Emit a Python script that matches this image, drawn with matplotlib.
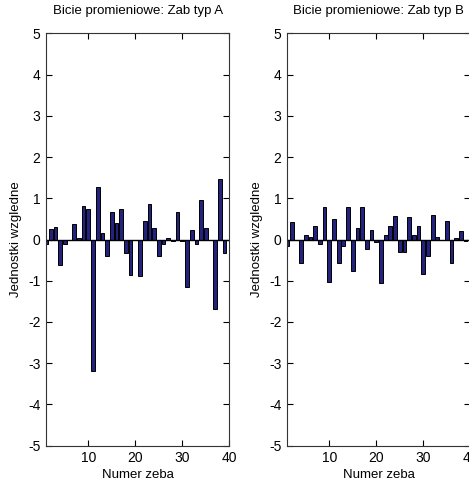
import numpy as np
import matplotlib
matplotlib.use("Agg")
import matplotlib.pyplot as plt

plt.rcParams['font.family'] = ['Liberation Sans', 'DejaVu Sans']
plt.rcParams['axes.unicode_minus'] = False

zeby = np.arange(1, 41)
typ_a = [-0.12, 0.26, 0.30, -0.62, -0.10, -0.02, 0.38, 0.03, 0.82, 0.73,
         -3.18, 1.28, 0.15, -0.41, 0.66, 0.39, 0.74, -0.33, -0.85, 0.0,
         -0.89, 0.45, 0.87, 0.27, -0.39, -0.11, 0.04, -0.03, 0.66, -0.03,
         -1.14, 0.22, -0.10, 0.95, 0.27, 0.0, -1.68, 1.46, -0.33, 0.0]
typ_b = [-0.15, 0.42, 0.0, -0.57, 0.10, 0.06, 0.33, -0.10, 0.80, -1.03,
         0.50, -0.57, -0.16, 0.80, -0.77, 0.27, 0.80, -0.22, 0.22, -0.07,
         -1.06, 0.10, 0.33, 0.57, -0.30, -0.30, 0.54, 0.10, 0.33, -0.83,
         -0.39, 0.59, 0.06, 0.0, 0.45, -0.57, 0.03, 0.20, -0.04, 0.0]
tytuly = ['Bicie promieniowe: Zab typ A', 'Bicie promieniowe: Zab typ B']

fig = plt.figure(figsize=(4.69, 4.87), dpi=100)
pozycje = [[0.0981, 0.0848, 0.3908, 0.8468], [0.6119, 0.0848, 0.3908, 0.8468]]

for poz, dane, tyt in zip(pozycje, [typ_a, typ_b], tytuly):
    ax = fig.add_axes(poz)
    ax.bar(zeby, dane, width=0.8, color='#23237f', edgecolor='black', linewidth=0.7)
    ax.axhline(0, color='black', linewidth=1)
    ax.set_xlim(1, 40)
    ax.set_ylim(-5, 5)
    ax.set_xticks([10, 20, 30, 40])
    ax.set_yticks(range(-5, 6))
    ax.tick_params(direction='in', length=4, top=True, right=True, labelsize=10, pad=4)
    ax.set_title(tyt, fontsize=9.5, pad=14)
    ax.set_xlabel('Numer zeba', fontsize=9.5, labelpad=3)
    ax.set_ylabel('Jednostki wzgledne', fontsize=9.5, labelpad=4)
    for s in ax.spines.values():
        s.set_color('#333333')

fig.savefig('out.png', dpi=100)
